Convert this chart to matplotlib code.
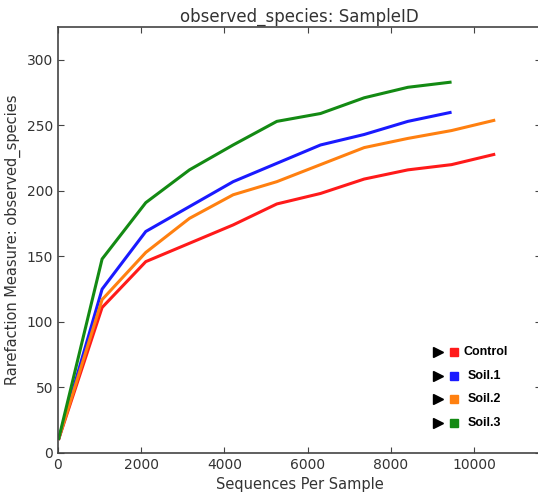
import matplotlib
matplotlib.use("Agg")
import matplotlib.pyplot as plt

depths = [10, 1060, 2110, 3160, 4210, 5260, 6310, 7360, 8410, 9460, 10510]
control = [10, 111, 146, 160, 174, 190, 198, 209, 216, 220, 228]
soil1 = [10, 125, 169, 188, 207, 221, 235, 243, 253, 260]
soil2 = [10, 117, 153, 179, 197, 207, 220, 233, 240, 246, 254]
soil3 = [10, 148, 191, 216, 235, 253, 259, 271, 279, 283]

series = [("Control", control, "#ff1a1a"),
          ("Soil.1", soil1, "#1a1aff"),
          ("Soil.2", soil2, "#ff8010"),
          ("Soil.3", soil3, "#138a13")]

xticks = [0, 2000, 4000, 6000, 8000, 10000]
yticks = [0, 50, 100, 150, 200, 250, 300]

fig = plt.figure(figsize=(5.38, 4.97), dpi=100)
ax = fig.add_axes([58/538, 1-453/497, (541-58)/538, (453-27)/497])

for name, vals, col in series:
    ax.plot(depths[:len(vals)], vals, color=col, lw=2.2, solid_capstyle='butt')

ax.set_xlim(0, 11610)
ax.set_ylim(0, 325)
ax.set_xticks(xticks)
ax.set_yticks(yticks)
ax.tick_params(direction='in', top=True, right=True, length=4, width=0.8,
               colors='#444444', labelsize=10, labelcolor='#333333')
for s in ax.spines.values():
    s.set_color('#444444')
    s.set_linewidth(1.2)

ax.set_title("observed_species: SampleID", fontsize=12, color='#333333', pad=4)
ax.set_xlabel("Sequences Per Sample", fontsize=10.5, color='#333333')
ax.set_ylabel("Rarefaction Measure: observed_species", fontsize=10.5, color='#333333')

# custom legend
rows_y = [352, 376, 399, 423]
text_x = [463, 468, 468, 468]
for (name, vals, col), yp, tx in zip(series, rows_y, text_x):
    fy = 1 - yp/497
    fig.lines.append(plt.Line2D([438/538], [fy], marker='>', color='black',
                                markersize=7, transform=fig.transFigure, lw=0))
    fig.lines.append(plt.Line2D([454/538], [fy], marker='s', color=col,
                                markersize=6, transform=fig.transFigure, lw=0))
    fig.text(tx/538, fy, name, fontsize=9, fontweight='bold',
             family='Liberation Sans', va='center', ha='left', color='black')

fig.savefig("out.png", dpi=100)
